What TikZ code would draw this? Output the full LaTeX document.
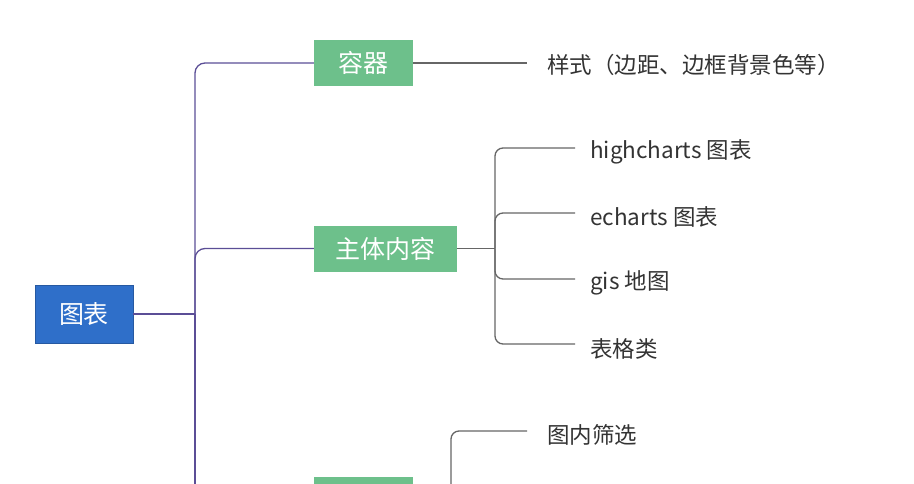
\documentclass[tikz,border=0pt]{standalone}
\usepackage{fontspec}
\setmainfont{Noto Sans CJK SC}
\usetikzlibrary{positioning}
\definecolor{rootblue}{HTML}{2F6FC9}
\definecolor{leafgreen}{HTML}{6DC08B}
\definecolor{trunk}{HTML}{5B4E96}
\definecolor{twig}{HTML}{666666}
\tikzset{
  rootbox/.style={fill=rootblue, draw=rootblue!80!black, text=white, minimum width=98pt, minimum height=58pt, font=\fontsize{25}{25}\selectfont, inner sep=0pt},
  midbox/.style={fill=leafgreen, text=white, minimum height=46pt, font=\fontsize{25}{25}\selectfont, inner sep=0pt},
  leaf/.style={anchor=west, text=black!80, font=\fontsize{22.5}{22.5}\selectfont, inner sep=0pt},
  trunkline/.style={draw=trunk, line width=1.3pt, rounded corners=10pt},
  twigline/.style={draw=twig, line width=1.3pt, rounded corners=8pt}
}
\begin{document}
\begin{tikzpicture}[x=1pt, y=-1pt]
  \useasboundingbox (0,0) rectangle (914,483);
  \clip (0,0) rectangle (914,483);
  % Nodos
  \node[rootbox] (root) at (84,314) {图表};
  \node[midbox, minimum width=99pt] (box) at (363.5,63) {容器};
  \node[midbox, minimum width=143pt] (main) at (385.5,248.5) {主体内容};
  \node[midbox, minimum width=99pt] (third) at (363.5,500) {};
  \node[leaf] (style) at (547,65) {样式（边距、边框背景色等）};
  \node[leaf] (hc) at (590,152) {highcharts 图表};
  \node[leaf] (ec) at (590,217) {echarts 图表};
  \node[leaf] (gis) at (590,283) {gis 地图};
  \node[leaf] (tab) at (590,349) {表格类};
  \node[leaf] (filt) at (547,435) {图内筛选};

  \coordinate (t) at (195,314);
  \coordinate (m) at (495,248.5);
  \coordinate (f) at (451,520);

  % trunk
  \draw[trunkline] (root.east) -- (t);
  \draw[trunkline] (t) |- (box.west);
  \draw[trunkline] (t) |- (main.west);
  \draw[trunkline] (t) -- (195,490);
  % twigs
  \draw[twigline] (box.east) -- (527,63);
  \draw[twigline] (main.east) -- (m);
  \draw[twigline] (m) |- (575,148);
  \draw[twigline] (m) |- (575,213);
  \draw[twigline] (m) |- (575,279);
  \draw[twigline] (m) |- (575,344);
  \draw[twigline] (f) |- (527,431);
\end{tikzpicture}
\end{document}
